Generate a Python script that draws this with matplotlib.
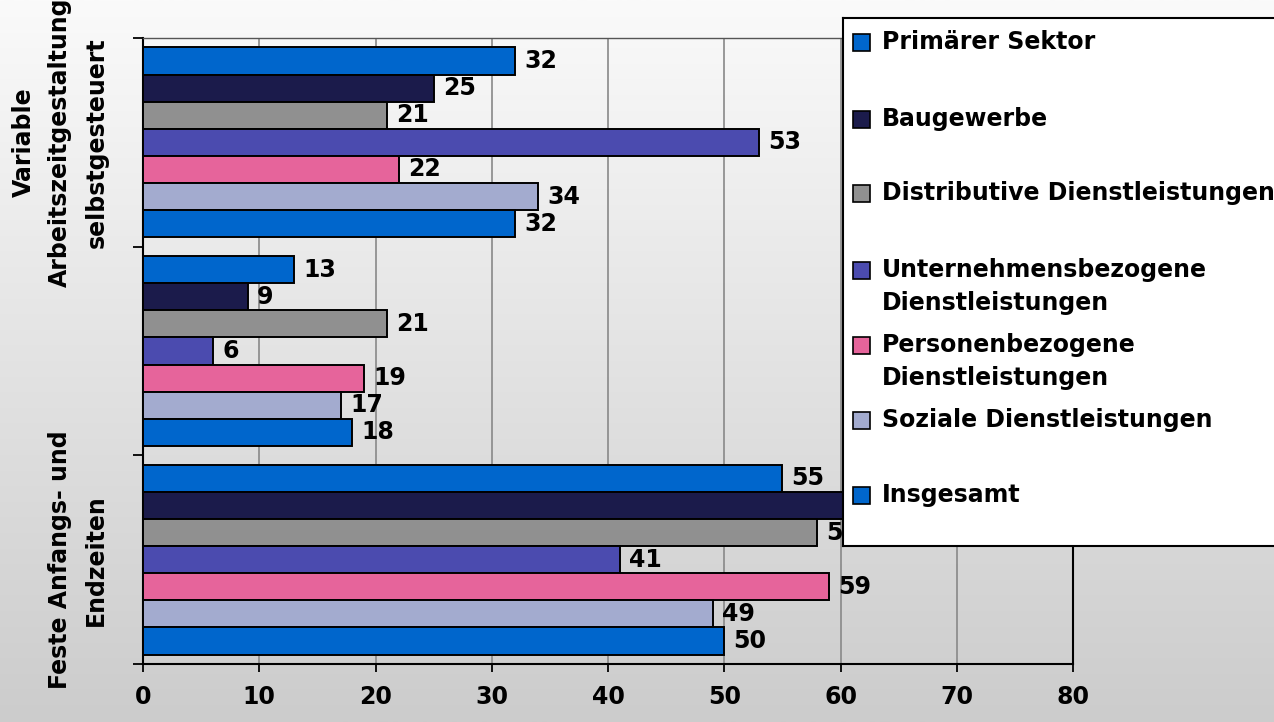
import numpy as np
import matplotlib
matplotlib.use("Agg")
from matplotlib import pyplot as plt
from matplotlib.patches import Rectangle

# data (groups bottom -> top)
groups = ["Feste Anfangs- und\nEndzeiten",
          "",
          "Variable\nArbeitszeitgestaltung\nselbstgesteuert"]
series = ["Primärer Sektor", "Baugewerbe", "Distributive Dienstleistungen",
          "Unternehmensbezogene\nDienstleistungen",
          "Personenbezogene\nDienstleistungen",
          "Soziale Dienstleistungen", "Insgesamt"]
primaer = [55, 13, 32]
baugewerbe = [66, 9, 25]
distributiv = [58, 21, 21]
unternehmen = [41, 6, 53]
personen = [59, 19, 22]
sozial = [49, 17, 34]
insgesamt = [50, 18, 32]
values = [primaer, baugewerbe, distributiv, unternehmen, personen, sozial, insgesamt]
colors = ["#0066CC", "#1B1B4B", "#909090", "#4B4BAF", "#E6649B", "#A3ABCF", "#0066CC"]
xticks = [0, 10, 20, 30, 40, 50, 60, 70, 80]

plt.rcParams["font.family"] = "DejaVu Sans"
plt.rcParams["font.weight"] = "bold"
FS = 17

fig = plt.figure(figsize=(12.74, 7.22), dpi=100)

# background gradient over whole figure
bg = fig.add_axes([0, 0, 1, 1], zorder=-10)
grad = np.linspace(0, 1, 256).reshape(-1, 1)
bg.imshow(grad, aspect="auto", cmap=matplotlib.colors.LinearSegmentedColormap.from_list(
    "bg", ["#FAFAFA", "#CCCCCC"]), extent=[0, 1, 0, 1], origin="upper")
bg.set_axis_off()

ax = fig.add_axes([143 / 1274, 1 - 664 / 722, 930 / 1274, 626 / 722])
ax.set_facecolor("none")

bar_h = 0.13
y_base = np.arange(len(groups)) + 0.5
for i, (name, vals, col) in enumerate(zip(series, values, colors)):
    ys = y_base + (3 - i) * bar_h
    ax.barh(ys, vals, height=bar_h, color=col, edgecolor="black", linewidth=1.4, zorder=3)
    for y, v in zip(ys, vals):
        if v > 60:
            # label sits under the legend box in the original
            continue
        ax.text(v + 0.8, y, str(v), va="center", ha="left", fontsize=FS,
                fontweight="bold", zorder=4)

ax.set_xlim(0, 80)
ax.set_ylim(0, 3)
ax.set_xticks(xticks)
ax.set_xticklabels([str(t) for t in xticks], fontsize=FS, fontweight="bold")
ax.set_yticks([0, 1, 2, 3])
ax.set_yticklabels([])
ax.set_yticks(y_base, minor=True)
ax.set_yticklabels(groups, minor=True, rotation=90, fontsize=FS, fontweight="bold",
                   va="center", ha="right", multialignment="center", linespacing=1.65)
ax.tick_params(axis="y", which="minor", length=0, pad=25)
ax.tick_params(axis="y", which="major", length=7, width=1.3, direction="out")
ax.tick_params(axis="x", length=6, width=1.3, direction="out", pad=9)
ax.grid(axis="x", color="#888888", linewidth=1.2, zorder=0)
ax.set_axisbelow(True)
for side in ["left", "bottom", "right"]:
    ax.spines[side].set_linewidth(1.5)
    ax.spines[side].set_color("black")
ax.spines["top"].set_linewidth(1.0)
ax.spines["top"].set_color("#555555")

# legend box (Excel style, partly outside the figure)
lg = fig.add_axes([843 / 1274, 1 - 546 / 722, 450 / 1274, 528 / 722], zorder=10)
lg.set_xlim(843, 1293)
lg.set_ylim(546, 18)
lg.set_facecolor("white")
lg.set_xticks([])
lg.set_yticks([])
for s in lg.spines.values():
    s.set_linewidth(1.5)
    s.set_color("black")
entry_y = [42, 119, 193, 270, 345, 420, 495]
for lab, col, y in zip(series, colors, entry_y):
    lg.add_patch(Rectangle((853, y - 8), 17, 17, facecolor=col, edgecolor="black",
                           linewidth=1.2))
    for k, line in enumerate(lab.split("\n")):
        lg.text(882, y + k * 33, line, va="center", ha="left", fontsize=FS,
                fontweight="bold")

fig.savefig("out.png", dpi=100)
